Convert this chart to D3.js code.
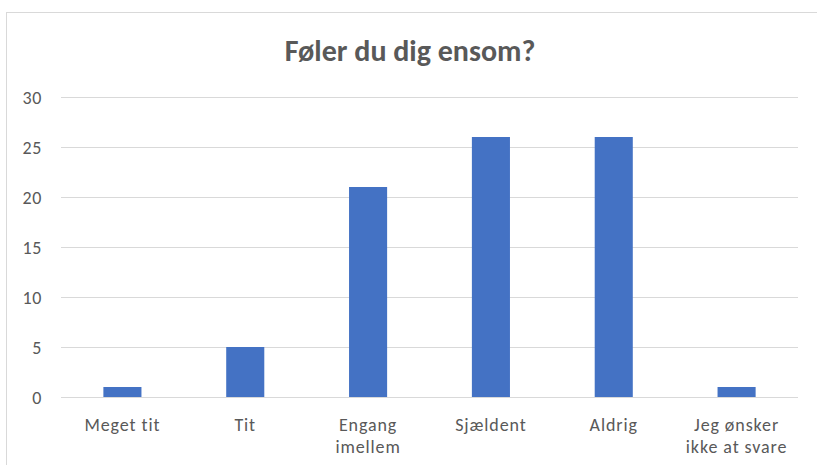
<!DOCTYPE html>
<html>
<head>
<meta charset="utf-8">
<script src="https://cdn.jsdelivr.net/npm/d3@7"></script>
<style>
  html, body { margin: 0; padding: 0; background: #fff; }
</style>
</head>
<body>
<div id="chart"></div>
<script>
const categories = ["Meget tit", "Tit", "Engang imellem", "Sjældent", "Aldrig", "Jeg ønsker ikke at svare"];
const labelLines = [["Meget tit"], ["Tit"], ["Engang", "imellem"], ["Sjældent"], ["Aldrig"], ["Jeg ønsker", "ikke at svare"]];
const values = [1, 5, 21, 26, 26, 1];
const yTicks = [0, 5, 10, 15, 20, 25, 30];
const title = "Føler du dig ensom?";

const width = 817, height = 465;
const margin = { top: 97, right: 19, bottom: 68, left: 61 };
const font = "Carlito, Calibri, 'Open Sans', sans-serif";

const svg = d3.select("#chart")
  .append("svg")
  .attr("width", width)
  .attr("height", height);

// chart area border
svg.append("rect")
  .attr("x", 6.5).attr("y", 12.5)
  .attr("width", width + 10).attr("height", height)
  .attr("fill", "none")
  .attr("stroke", "#d9d9d9");

const x = d3.scaleBand()
  .domain(categories)
  .range([margin.left, width - margin.right])
  .paddingInner(0.69)
  .paddingOuter(0.345);

const y = d3.scaleLinear()
  .domain([0, 30])
  .range([height - margin.bottom, margin.top]);

// gridlines
svg.append("g")
  .selectAll("line")
  .data(yTicks)
  .enter()
  .append("line")
  .attr("x1", margin.left)
  .attr("x2", width - margin.right)
  .attr("y1", d => Math.round(y(d)) + 0.5)
  .attr("y2", d => Math.round(y(d)) + 0.5)
  .attr("stroke", "#d9d9d9")
  .attr("stroke-width", 1);

// y tick labels
svg.append("g")
  .selectAll("text")
  .data(yTicks)
  .enter()
  .append("text")
  .attr("x", 42)
  .attr("y", d => y(d) + 6.5)
  .attr("text-anchor", "end")
  .attr("font-family", font)
  .attr("font-size", 18)
  .attr("letter-spacing", 0.6)
  .attr("fill", "#595959")
  .text(d => d);

// bars
svg.append("g")
  .selectAll("rect")
  .data(values)
  .enter()
  .append("rect")
  .attr("x", (d, i) => x(categories[i]))
  .attr("width", x.bandwidth())
  .attr("y", d => y(d))
  .attr("height", d => y(0) - y(d))
  .attr("fill", "#4472c4");

// x labels
const xl = svg.append("g")
  .selectAll("text")
  .data(categories)
  .enter()
  .append("text")
  .attr("x", d => x(d) + x.bandwidth() / 2)
  .attr("y", 431)
  .attr("text-anchor", "middle")
  .attr("font-family", font)
  .attr("font-size", 18)
  .attr("letter-spacing", 0.9)
  .attr("fill", "#595959");

xl.selectAll("tspan")
  .data((d, i) => labelLines[i])
  .enter()
  .append("tspan")
  .attr("x", function () { return d3.select(this.parentNode).attr("x"); })
  .attr("dy", (d, i) => i === 0 ? 0 : 22)
  .text(d => d);

// title
svg.append("text")
  .attr("x", 410)
  .attr("y", 61)
  .attr("text-anchor", "middle")
  .attr("font-family", font)
  .attr("font-size", 30)
  .attr("font-weight", "bold")
  .attr("fill", "#595959")
  .text(title);
</script>
</body>
</html>
